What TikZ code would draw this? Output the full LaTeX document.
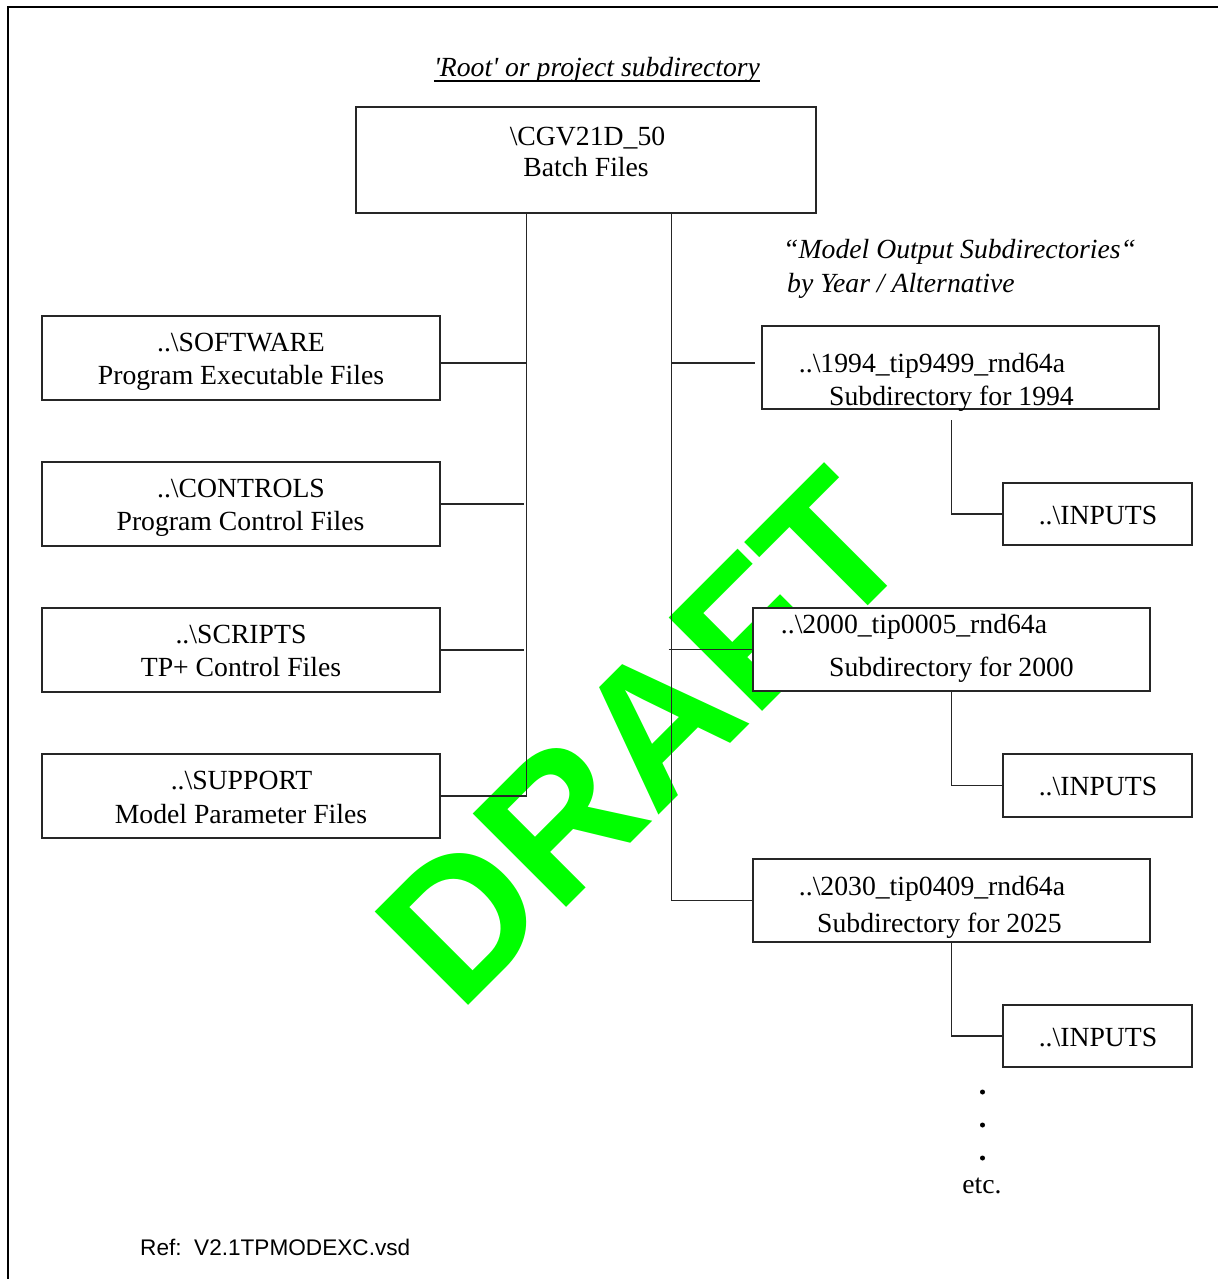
\documentclass[tikz,border=0pt]{standalone}
\usepackage{fontspec}
\setmainfont{Liberation Serif}
\newfontfamily\arialfont{Liberation Sans}
\usetikzlibrary{fit}
\begin{document}
\begin{tikzpicture}[x=1pt,y=-1pt,
  box/.style={draw=black!85, line width=1.1pt, fill=white, inner sep=0pt},
  conn/.style={draw=black!85, line width=1.1pt},
  lbl/.style={inner sep=0pt, font=\fontsize{27.7}{33}\selectfont},
  ilbl/.style={inner sep=0pt, font=\fontsize{27.7}{33}\selectfont\itshape},
  dot/.style={circle, fill=black, inner sep=0pt, minimum size=5pt},
  frame/.style={draw=black, line width=2pt}]
\useasboundingbox (0,0) rectangle (1218,1279);
% watermark
\node[rotate=45, inner sep=0pt, text={rgb,255:red,0;green,255;blue,0},
      font=\arialfont\bfseries\fontsize{192}{192}\selectfont] (draft) at (643,738) {DRAFT};
% frame
\coordinate (fa) at (7.5,1279);
\coordinate (fb) at (7.5,6.7);
\coordinate (fc) at (1218,6.7);
\draw[frame] (fa) -- (fb) -- (fc);
% boxes
\node[box, fit={(356,107) (816,213)}] (root) {};
\node[box, fit={(42,316) (440,400)}] (software) {};
\node[box, fit={(42,462) (440,546)}] (controls) {};
\node[box, fit={(42,608) (440,692)}] (scripts) {};
\node[box, fit={(42,754) (440,838)}] (support) {};
\node[box, fit={(762,326) (1159,409)}] (y1994) {};
\node[box, fit={(1003,483) (1192,545)}] (in1) {};
\node[box, fit={(753,608) (1150,691)}] (y2000) {};
\node[box, fit={(1003,754) (1192,817)}] (in2) {};
\node[box, fit={(753,859) (1150,942)}] (y2030) {};
\node[box, fit={(1003,1005) (1192,1067)}] (in3) {};
% connectors
\coordinate (lx) at (526.7,0);
\coordinate (rx) at (671.7,0);
\draw[conn] (root.south -| lx) -- (lx |- support.east) -- (support.east);
\draw[conn] ([yshift=-5pt]software.east) -- ([yshift=-5pt]software.east -| lx);
\draw[conn] (controls.east) -- ([xshift=-3pt]controls.east -| lx);
\draw[conn] (scripts.east) -- ([xshift=-3pt]scripts.east -| lx);
\draw[conn] (root.south -| rx) -- (rx |- y2030.west) -- (y2030.west);
\coordinate (b94) at (755,363);
\draw[conn] (rx |- b94) -- (b94);
\draw[conn] ([xshift=-3pt]rx |- y2000.west) -- (y2000.west);
\coordinate (v1) at (951.5,420);
\draw[conn] (v1) -- (v1 |- in1.west) -- (in1.west);
\draw[conn] (y2000.south -| v1) -- (v1 |- in2.west) -- (in2.west);
\draw[conn] (y2030.south -| v1) -- (v1 |- in3.west) -- (in3.west);
% texts
\node[ilbl, anchor=base] (title) at (597,77) {\textquotesingle Root\textquotesingle\ or project subdirectory};
\draw[line width=1.6pt] ([yshift=-4pt]title.base west) -- ([yshift=-4pt]title.base east);
\node[lbl, anchor=base] (t0a) at (587.5,146) {\textbackslash CGV21D\_50};
\node[lbl, anchor=base] (t0b) at (586,176) {Batch Files};
\node[lbl, anchor=base] (t1a) at (241,351) {..\textbackslash SOFTWARE};
\node[lbl, anchor=base] (t1b) at (241,384) {Program Executable Files};
\node[lbl, anchor=base] (t2a) at (241,497) {..\textbackslash CONTROLS};
\node[lbl, anchor=base] (t2b) at (240.5,530) {Program Control Files};
\node[lbl, anchor=base] (t3a) at (241,643) {..\textbackslash SCRIPTS};
\node[lbl, anchor=base] (t3b) at (241,676) {TP+ Control Files};
\node[lbl, anchor=base] (t4a) at (241.5,789) {..\textbackslash SUPPORT};
\node[lbl, anchor=base] (t4b) at (241,823) {Model Parameter Files};
\node[ilbl, anchor=base west] (mo1) at (783,258) {“Model Output Subdirectories“};
\node[ilbl, anchor=base west] (mo2) at (787,292) {by Year / Alternative};
\node[lbl, anchor=base] (r1a) at (932,372) {..\textbackslash 1994\_tip9499\_rnd64a};
\node[lbl, anchor=base] (r1b) at (951.5,405) {Subdirectory for 1994};
\node[lbl, anchor=base] (i1) at (1098,524) {..\textbackslash INPUTS};
\node[lbl, anchor=base] (r2a) at (914,633) {..\textbackslash 2000\_tip0005\_rnd64a};
\node[lbl, anchor=base] (r2b) at (951.5,676) {Subdirectory for 2000};
\node[lbl, anchor=base] (i2) at (1098,795) {..\textbackslash INPUTS};
\node[lbl, anchor=base] (r3a) at (932,895) {..\textbackslash 2030\_tip0409\_rnd64a};
\node[lbl, anchor=base] (r3b) at (939.5,932) {Subdirectory for 2025};
\node[lbl, anchor=base] (i3) at (1098,1046) {..\textbackslash INPUTS};
\node[dot] (d1) at (982.5,1092) {};
\node[dot] (d2) at (982.5,1125) {};
\node[dot] (d3) at (982.5,1158) {};
\node[lbl, anchor=base] (etc) at (982,1193) {etc.};
\node[inner sep=0pt, anchor=base west, font=\arialfont\fontsize{22.6}{27}\selectfont] (ref) at (140,1255) {Ref:\ \ V2.1TPMODEXC.vsd};
\end{tikzpicture}
\end{document}
